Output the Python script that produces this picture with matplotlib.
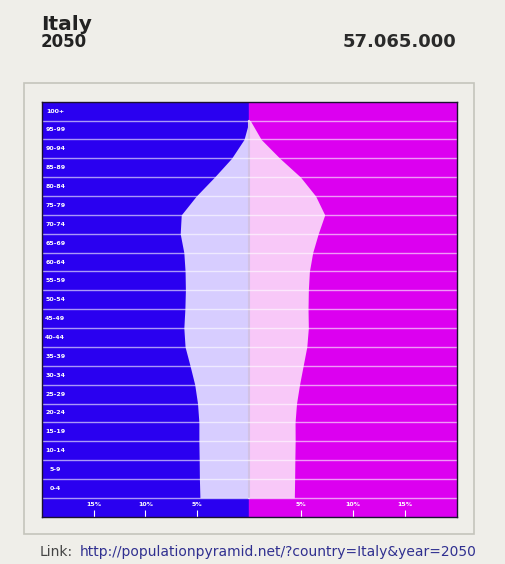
import matplotlib.pyplot as plt
from matplotlib.patches import Rectangle

# age groups, bottom to top
age_groups = ["0-4", "5-9", "10-14", "15-19", "20-24", "25-29", "30-34",
              "35-39", "40-44", "45-49", "50-54", "55-59", "60-64", "65-69",
              "70-74", "75-79", "80-84", "85-89", "90-94", "95-99", "100+"]
# percent of population
male = [4.75, 4.8, 4.82, 4.85, 4.85, 4.98, 5.25, 5.7, 6.18, 6.3, 6.2,
        6.15, 6.18, 6.3, 6.65, 6.55, 5.1, 3.35, 1.7, 0.5, 0.0]
female = [4.35, 4.38, 4.4, 4.43, 4.42, 4.56, 4.85, 5.2, 5.55, 5.7, 5.67,
          5.7, 5.8, 6.12, 6.65, 7.28, 6.4, 4.95, 2.95, 1.15, 0.1]
tick_pos = [-15, -10, -5, 5, 10, 15]
tick_labels = ["15%", "10%", "5%", "5%", "10%", "15%"]

country = "Italy"
year = "2050"
total = "57.065.000"
link = "http://populationpyramid.net/?country=Italy&year=2050"

BG = "#efeee9"
BLUE = "#2a00f0"
MAGENTA = "#dc00f0"
LAVENDER = "#d7cdff"
PINK = "#f8c8f8"

W, H = 505, 564
fig = plt.figure(figsize=(W / 100, H / 100), dpi=100, facecolor=BG)

# light panel frame
fig.patches.append(Rectangle((23.5 / W, 1 - 534 / H), 450 / W, 451 / H,
                             transform=fig.transFigure, fill=False,
                             edgecolor="#c4c4bc", lw=1.2))

ax = fig.add_axes([41.7 / W, 47.3 / H, 415 / W, 415 / H])
ax.set_xlim(-20, 20)
ax.set_ylim(-1, len(age_groups))

ax.axvspan(-20, 0, color=BLUE, zorder=0)
ax.axvspan(0, 20, color=MAGENTA, zorder=0)

y = list(range(len(age_groups)))
ax.fill_betweenx(y, [-m for m in male], 0, color=LAVENDER, lw=0, zorder=1)
ax.fill_betweenx(y, 0, female, color=PINK, lw=0, zorder=1)
ax.plot([0, 0], [0, 20], color="#d2c2e6", lw=1.5, zorder=1.5)

for i in range(len(age_groups)):
    ax.axhline(i, color="white", alpha=0.6, lw=1, zorder=2)

for i, lab in enumerate(age_groups):
    ax.text(-18.7, i + 0.5, lab, color="white", fontsize=4.5,
            fontweight="bold", ha="center", va="center", zorder=3)

ax.set_xticks(tick_pos)
ax.set_xticklabels(tick_labels)
ax.set_yticks([])
ax.tick_params(axis="x", direction="in", length=5, width=0.8, color="white",
               labelcolor="white", labelsize=4.5, pad=-10.5)
for lab in ax.get_xticklabels():
    lab.set_fontweight("bold")
for s in ax.spines.values():
    s.set_color("#1a1030")
    s.set_linewidth(1)

fig.text(41 / W, 1 - 30.5 / H, country, fontsize=14.5, fontweight="bold",
         color="#222222", ha="left", va="baseline")
fig.text(41 / W, 1 - 47 / H, year, fontsize=12, fontweight="bold",
         color="#222222", ha="left", va="baseline")
fig.text(456 / W, 1 - 47 / H, total, fontsize=13, fontweight="bold",
         color="#2a2a2a", ha="right", va="baseline")

fig.text(40 / W, 1 - 556 / H, "Link:", fontsize=10, color="#444444",
         ha="left", va="baseline")
fig.text(80 / W, 1 - 556 / H, link, fontsize=10, color="#303090",
         ha="left", va="baseline")

fig.savefig("out.png", dpi=100, facecolor=BG)
